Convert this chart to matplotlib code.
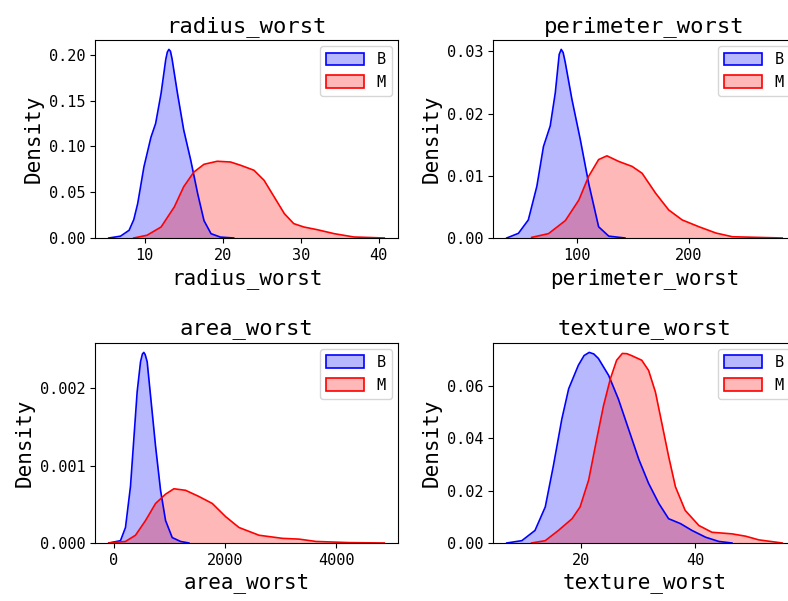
import matplotlib
matplotlib.use("Agg")
import matplotlib.pyplot as plt
from matplotlib.patches import Patch

plt.rcParams['font.family'] = ['DejaVu Sans Mono']

# density curves (x, density) for benign (B) and malignant (M)
radius_b_x = [5.4, 6.9, 8.0, 8.6, 9.1, 9.9, 10.8, 11.4, 12.1, 12.7, 12.9, 13.1, 13.3, 13.5, 14.2, 15.0, 15.9, 16.8, 17.6, 18.5, 19.7, 21.4]
radius_b_y = [0, 0.002, 0.0084, 0.02, 0.0375, 0.0776, 0.110, 0.125, 0.158, 0.195, 0.203, 0.206, 0.204, 0.196, 0.158, 0.118, 0.085, 0.048, 0.019, 0.0047, 0.001, 0]
radius_m_x = [8.6, 10.3, 12.1, 13.8, 15.0, 16.3, 17.6, 19.3, 21.0, 22.3, 24.0, 25.3, 26.6, 27.9, 29.1, 30.4, 32.1, 34.3, 36.8, 40.7]
radius_m_y = [0, 0.003, 0.012, 0.034, 0.056, 0.072, 0.0805, 0.0838, 0.083, 0.0794, 0.074, 0.063, 0.0448, 0.0266, 0.0157, 0.012, 0.0091, 0.0047, 0.0011, 0]

perim_b_x = [37.8, 48.2, 57.0, 64.6, 70.5, 76.5, 81.0, 84.5, 86.3, 88.0, 89.9, 95.8, 103.3, 110.7, 119.6, 128.6, 143.0]
perim_b_y = [0, 0.00075, 0.0029, 0.0083, 0.0147, 0.018, 0.0233, 0.0295, 0.0303, 0.0298, 0.0282, 0.0223, 0.0158, 0.0088, 0.0018, 0.0003, 0]
perim_m_x = [60, 75, 90, 102, 110.7, 119.6, 127, 137.5, 149.4, 158.3, 170.3, 182, 194, 209, 224, 238.7, 283]
perim_m_y = [0.0001, 0.0007, 0.0028, 0.0061, 0.0099, 0.0126, 0.0132, 0.0123, 0.0115, 0.0104, 0.0072, 0.0045, 0.0029, 0.0018, 0.0008, 0.0002, 0]

area_b_x = [-90, 120, 210, 300, 360, 420, 481, 515, 540, 565, 600, 661, 751, 841, 931, 1051, 1201, 1351]
area_b_y = [0, 0.00003, 0.0002, 0.00073, 0.00134, 0.00195, 0.00234, 0.00244, 0.00246, 0.00243, 0.00234, 0.0019, 0.00125, 0.00068, 0.00029, 0.00007, 0.00002, 0]
area_m_x = [-90, 210, 390, 571, 751, 931, 1081, 1291, 1532, 1772, 2012, 2252, 2613, 3033, 3333, 3634, 4234, 4865]
area_m_y = [0, 0.00002, 0.0001, 0.00029, 0.00051, 0.00063, 0.0007, 0.00068, 0.0006, 0.00051, 0.00034, 0.0002, 0.0001, 0.00006, 0.00005, 0.00002, 0.000005, 0]

texture_b_x = [6.95, 9.6, 11.9, 13.7, 15.1, 16.6, 17.8, 19.5, 20.5, 21.4, 22.2, 23.0, 24.8, 26.5, 28.3, 30.1, 31.8, 33.6, 35.3, 37.4, 39.4, 41.8, 44.1, 46.4]
texture_b_y = [0, 0.0009, 0.0048, 0.0138, 0.0293, 0.0474, 0.059, 0.068, 0.0717, 0.0729, 0.0723, 0.0706, 0.0641, 0.0551, 0.0435, 0.0319, 0.0228, 0.0151, 0.0093, 0.0074, 0.0048, 0.0022, 0.0006, 0]
texture_m_x = [11.3, 13.7, 16.0, 18.4, 19.8, 21.3, 22.7, 23.9, 25.1, 26.2, 27.2, 28.0, 28.9, 30.6, 31.8, 33.0, 34.1, 35.3, 36.5, 38.2, 40.6, 42.9, 46.4, 48.8, 51.1, 55.2]
texture_m_y = [0, 0.0009, 0.0048, 0.0093, 0.0138, 0.0241, 0.0396, 0.0525, 0.0628, 0.0699, 0.0725, 0.0724, 0.0716, 0.0699, 0.066, 0.0577, 0.046, 0.0332, 0.0215, 0.0125, 0.0067, 0.0041, 0.0035, 0.0026, 0.0012, 0]

features = ['radius_worst', 'perimeter_worst', 'area_worst', 'texture_worst']
curves = [
    (radius_b_x, radius_b_y, radius_m_x, radius_m_y),
    (perim_b_x, perim_b_y, perim_m_x, perim_m_y),
    (area_b_x, area_b_y, area_m_x, area_m_y),
    (texture_b_x, texture_b_y, texture_m_x, texture_m_y),
]
xticks = [[10, 20, 30, 40], [100, 200], [0, 2000, 4000], [20, 40]]
yticks = [[0, 0.05, 0.10, 0.15, 0.20], [0, 0.01, 0.02, 0.03], [0, 0.001, 0.002], [0, 0.02, 0.04, 0.06]]

fig = plt.figure(figsize=(7.88, 6.01), dpi=100)
positions = [
    [0.1206, 0.604, 0.3845, 0.3295],
    [0.6256, 0.604, 0.3845, 0.3295],
    [0.1206, 0.0965, 0.3845, 0.333],
    [0.6256, 0.0965, 0.3845, 0.333],
]

for i, name in enumerate(features):
    ax = fig.add_axes(positions[i])
    bx, by, mx, my = curves[i]
    ax.fill_between(bx, by, color='blue', alpha=0.28, linewidth=0)
    ax.plot(bx, by, color='blue', linewidth=1.2)
    ax.fill_between(mx, my, color='red', alpha=0.28, linewidth=0)
    ax.plot(mx, my, color='red', linewidth=1.2)
    ax.set_xticks(xticks[i])
    ax.set_yticks(yticks[i])
    ax.set_ylim(bottom=0)
    ax.tick_params(labelsize=11)
    ax.set_title(name, fontsize=16)
    ax.set_xlabel(name, fontsize=15)
    ax.set_ylabel('Density', fontsize=15)
    handles = [Patch(facecolor=(0, 0, 1, 0.28), edgecolor='blue', linewidth=1.2, label='B'),
               Patch(facecolor=(1, 0, 0, 0.28), edgecolor='red', linewidth=1.2, label='M')]
    ax.legend(handles=handles, loc='upper right', fontsize=11, handlelength=2.5,
              handleheight=0.9, handletextpad=0.8, borderaxespad=0.4)

fig.savefig('out.png', dpi=100)
